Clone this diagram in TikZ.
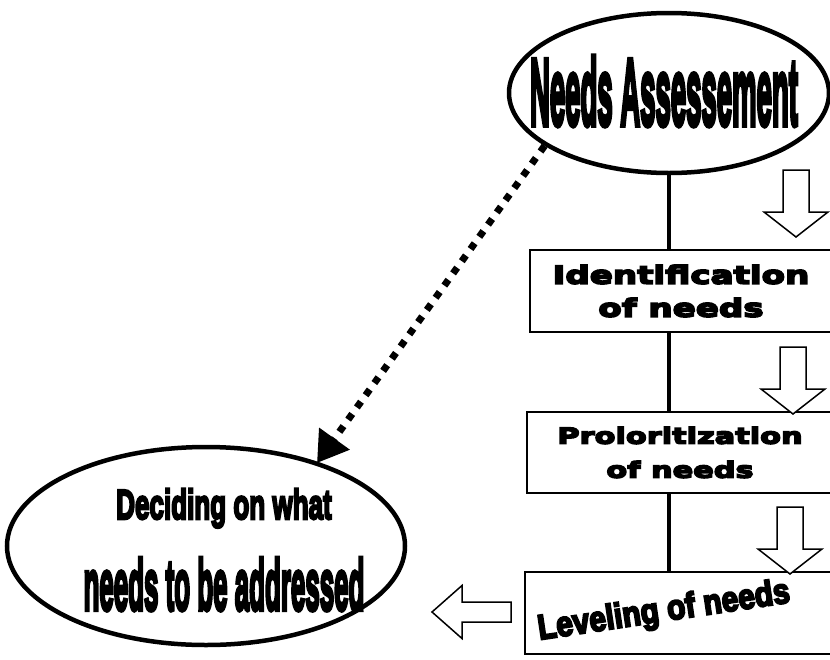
\documentclass[tikz,border=0pt]{standalone}
\usepackage{graphicx}
\usepackage{fontspec}
\usetikzlibrary{shapes.geometric,arrows.meta}

\newfontfamily\heavycond[FakeBold=6]{Liberation Sans Bold}
\newfontfamily\heavywide[FakeStretch=1.38,FakeBold=7]{DejaVu Sans Bold}
\newcommand{\squeezed}[2]{\scalebox{#1}[1]{#2}}

\tikzset{every picture/.style={line width=0.75pt}}
\tikzset{
  bubble/.style={draw, ellipse, line width=4.5pt, inner sep=0pt},
  stepbox/.style={draw, rectangle, line width=1.8pt, inner sep=0pt, align=center},
  spine/.style={line width=4.5pt},
  dotlink/.style={line width=7pt, dash pattern=on 7pt off 8pt, -{Triangle[length=30pt,width=36pt]}},
  hollowdown/.pic={\draw[line width=1.5pt, fill=white] (-13,0) -- (13,0) -- (13,-42) -- (32,-42) -- (0,-67) -- (-32,-42) -- (-13,-42) -- cycle;},
  hollowleft/.pic={\draw[line width=1.5pt, fill=white] (0,-10) -- (-49,-10) -- (-49,-26.5) -- (-79,0) -- (-49,26.5) -- (-49,10) -- (0,10) -- cycle;}
}

\begin{document}
\begin{tikzpicture}[x=1pt,y=1pt,yscale=-1,xscale=1]
\useasboundingbox (0,0) rectangle (830,659);

%Shape: Ellipse
\node[bubble, minimum width=320pt, minimum height=160pt] (assess) at (669,93) {};
%Shape: Ellipse
\node[bubble, minimum width=398pt, minimum height=198pt] (decide) at (206,546) {};

%Shape: Rectangle
\node[stepbox, minimum width=302pt, minimum height=82pt, font=\fontsize{24.7}{33}\selectfont\heavywide] (ident) at (681,291) {Identification\\of needs};
%Shape: Rectangle
\node[stepbox, minimum width=306pt, minimum height=81pt, font=\fontsize{22}{34}\selectfont\heavywide] (prior) at (680,452.5) {Proloritization\\of needs};
%Shape: Rectangle
\node[stepbox, minimum width=308pt, minimum height=82pt] (level) at (679,613) {};

%Straight Lines
\draw[spine] (assess.south) -- (ident.north -| assess.south);
\draw[spine] (ident.south -| assess.south) -- (prior.north -| assess.south);
\draw[spine] (prior.south -| assess.south) -- (level.north -| assess.south);

%Dotted arrow
\coordinate (dottip) at (317,463);
\draw[dotlink] (assess.203) -- (dottip);

%Shape: Block arrows
\pic (downA) at (796,170) {hollowdown};
\pic (downB) at (793,347) {hollowdown};
\pic (downC) at (790,507) {hollowdown};
\pic (leftA) at (511,612) {hollowleft};

% Text Node
\node[anchor=base, inner sep=0pt, font=\fontsize{95}{95}\selectfont\heavycond] (assesstxt) at (664,125) {\squeezed{0.29}{Needs Assessement}};
% Text Node
\node[anchor=base, inner sep=0pt, font=\fontsize{42}{42}\selectfont\heavycond] (decidetxtA) at (224,519) {\squeezed{0.62}{Deciding on what}};
% Text Node
\node[anchor=base, inner sep=0pt, font=\fontsize{72}{72}\selectfont\heavycond] (decidetxtB) at (224,610) {\squeezed{0.36}{needs to be addressed}};
% Text Node
\node[inner sep=0pt, rotate=8.5, font=\fontsize{35}{35}\selectfont\heavycond] (leveltxt) at (664,612) {\squeezed{0.86}{Leveling of needs}};

\end{tikzpicture}
\end{document}
